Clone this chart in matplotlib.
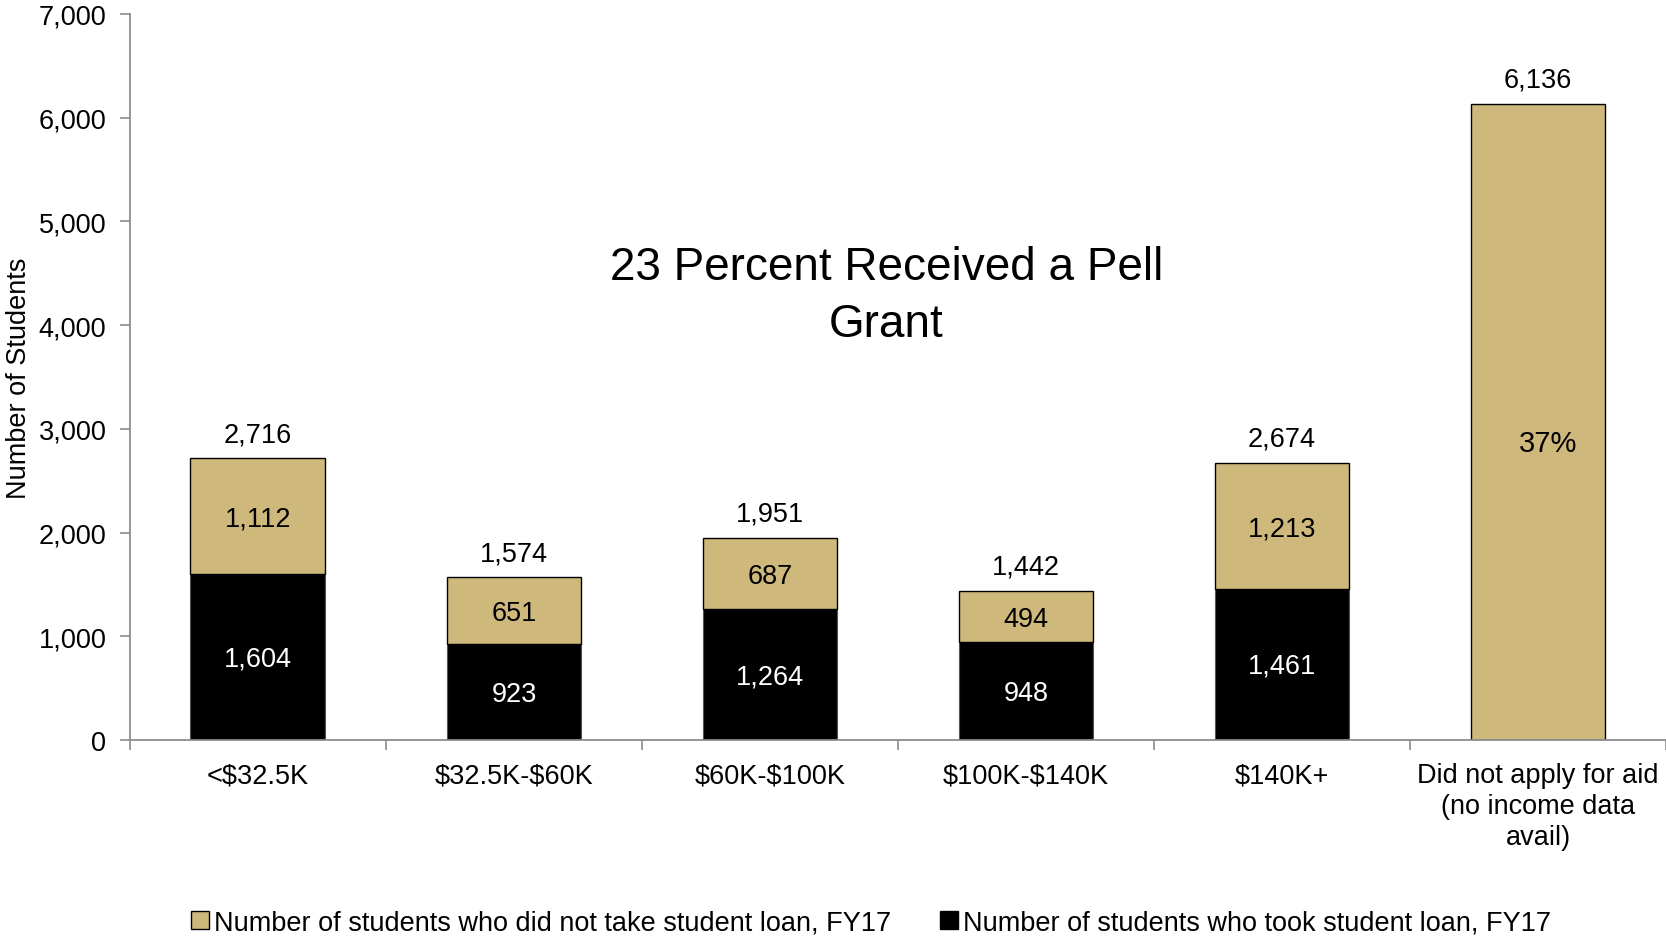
import matplotlib
matplotlib.use("Agg")
import matplotlib.pyplot as plt
import numpy as np
from matplotlib.patches import Patch

plt.rcParams['font.family'] = ['Liberation Sans', 'DejaVu Sans']
plt.rcParams['text.parse_math'] = False

categories = ["<$32.5K", "$32.5K-$60K", "$60K-$100K", "$100K-$140K", "$140K+",
              "Did not apply for aid\n(no income data\navail)"]
took_loan = [1604, 923, 1264, 948, 1461, 0]
no_loan = [1112, 651, 687, 494, 1213, 6136]
totals = [2716, 1574, 1951, 1442, 2674, 6136]
yticks = [0, 1000, 2000, 3000, 4000, 5000, 6000, 7000]

gold = "#CFB87C"
axis_grey = "#8C8C8C"

fig = plt.figure(figsize=(16.66, 9.37), dpi=100)
ax = fig.add_axes([0.078, 0.209, 0.922, 0.775])

x = np.arange(len(categories))
w = 0.527
ax.bar(x, took_loan, width=w, color="black", edgecolor="#555555", linewidth=0.8, zorder=2)
ax.bar(x, no_loan, width=w, bottom=took_loan, color=gold, edgecolor="black",
       linewidth=1.0, zorder=2)

fs = 19.5
for i in range(len(categories)):
    if took_loan[i] > 0:
        ax.text(x[i], took_loan[i] / 2 - 15, f"{took_loan[i]:,}", ha="center", va="center",
                color="white", fontsize=fs)
        ax.text(x[i], took_loan[i] + no_loan[i] / 2 - 25, f"{no_loan[i]:,}", ha="center",
                va="center", color="black", fontsize=fs)
    ax.text(x[i], totals[i] + 230, f"{totals[i]:,}", ha="center", va="center",
            color="black", fontsize=fs)

ax.text(x[5] + 0.04, 2860, "37%", ha="center", va="center", fontsize=21)

ax.set_xlim(-0.5, 5.5)
ax.set_ylim(0, 7000)
ax.set_yticks(yticks)
ax.set_yticklabels([f"{v:,}" for v in yticks], fontsize=fs)
ax.set_xticks(x)
ax.set_xticklabels(categories, fontsize=fs, linespacing=1.25)
ax.set_xticks(np.arange(-0.5, 5.6, 1.0), minor=True)
ax.tick_params(axis="x", which="major", length=0, pad=16)
ax.tick_params(axis="x", which="minor", length=7, color=axis_grey, width=1.2, direction="out")
ax.tick_params(axis="y", length=7, color=axis_grey, width=1.2, direction="out", pad=10)
for s in ["top", "right"]:
    ax.spines[s].set_visible(False)
for s in ["left", "bottom"]:
    ax.spines[s].set_color(axis_grey)
    ax.spines[s].set_linewidth(1.3)

ax.set_ylabel("Number of Students", fontsize=fs)
ax.yaxis.set_label_coords(-0.064, 0.5)

fig.text(0.532, 0.684, "23 Percent Received a Pell\nGrant", ha="center", va="center",
         fontsize=33, linespacing=1.38)

handles = [Patch(facecolor=gold, edgecolor="black", linewidth=1.0),
           Patch(facecolor="black", edgecolor="black")]
labels = ["Number of students who did not take student loan, FY17",
          "Number of students who took student loan, FY17"]
fig.legend(handles, labels, loc="center", bbox_to_anchor=(0.523, 0.014), ncol=2,
           frameon=False, fontsize=fs, handlelength=0.65, handleheight=0.65,
           handletextpad=0.2, columnspacing=1.8)

fig.savefig("out.png", dpi=100)
